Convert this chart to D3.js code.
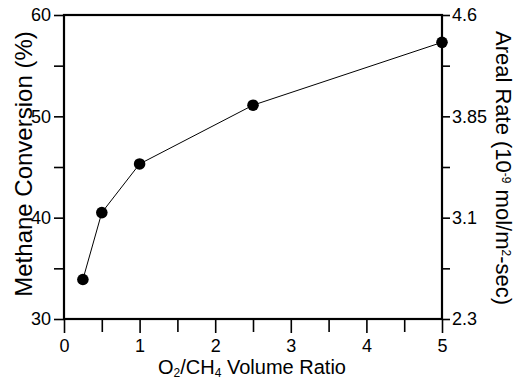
<!DOCTYPE html>
<html>
<head>
<meta charset="utf-8">
<script src="https://cdn.jsdelivr.net/npm/d3@7"></script>
<style>
  body { margin: 0; background: #fff; }
  text { font-family: 'Liberation Sans', Arial, sans-serif; fill: #000; }
</style>
</head>
<body>
<svg class="chart" width="517" height="381"></svg>
<script>
/****************************************************************
    Data
/****************************************************************/
const ratio = [0.25, 0.5, 1, 2.5, 5] // O2/CH4 volume ratio
const conversion = [33.9, 40.5, 45.3, 51.1, 57.3] // methane conversion (%)
const xTicks = [0, 1, 2, 3, 4, 5]
const xMinorTicks = [0.5, 1.5, 2.5, 3.5, 4.5]
const yTicks = [30, 40, 50, 60]
const yMinorTicks = [35, 45, 55]
const rightTickLabels = ['2.3', '3.1', '3.85', '4.6'] // areal rate at the left ticks

/****************************************************************
    Layout
/****************************************************************/
const box = { left: 64, right: 442, top: 15, bottom: 319 }

const svg = d3.select('.chart')

const x = d3.scaleLinear().domain([0, 5]).range([box.left, box.right])
const y = d3.scaleLinear().domain([30, 60]).range([box.bottom, box.top])

/****************************************************************
    Axes (ticks outward, frame drawn after)
/****************************************************************/
function styleAxis(g) {
  g.select('.domain').remove()
  g.selectAll('line').attr('stroke', '#000').attr('stroke-width', 1.6)
  g.selectAll('text').style('font-size', '18px').attr('fill', '#000')
}

// bottom
svg.append('g')
  .attr('transform', `translate(0,${box.bottom})`)
  .call(d3.axisBottom(x).tickValues(xTicks).tickFormat(d3.format('d')).tickSize(14).tickPadding(6))
  .call(styleAxis)
svg.append('g')
  .attr('transform', `translate(0,${box.bottom})`)
  .call(d3.axisBottom(x).tickValues(xMinorTicks).tickFormat('').tickSize(13))
  .call(styleAxis)

// left
svg.append('g')
  .attr('transform', `translate(${box.left},0)`)
  .call(d3.axisLeft(y).tickValues(yTicks).tickFormat(d3.format('d')).tickSize(10).tickPadding(3))
  .call(styleAxis)
svg.append('g')
  .attr('transform', `translate(${box.left},0)`)
  .call(d3.axisLeft(y).tickValues(yMinorTicks).tickFormat('').tickSize(10))
  .call(styleAxis)

// right, same positions as left but labelled in areal rate
svg.append('g')
  .attr('transform', `translate(${box.right},0)`)
  .call(d3.axisRight(y).tickValues(yTicks).tickFormat((d, i) => rightTickLabels[i]).tickSize(8).tickPadding(2))
  .call(styleAxis)
svg.append('g')
  .attr('transform', `translate(${box.right},0)`)
  .call(d3.axisRight(y).tickValues(yMinorTicks).tickFormat('').tickSize(8))
  .call(styleAxis)

// frame
svg.append('rect')
  .attr('x', box.left)
  .attr('y', box.top)
  .attr('width', box.right - box.left)
  .attr('height', box.bottom - box.top)
  .attr('fill', 'none')
  .attr('stroke', '#000')
  .attr('stroke-width', 2.2)

/****************************************************************
    Series
/****************************************************************/
const points = ratio.map((r, i) => ({ r: r, c: conversion[i] }))

svg.append('path')
  .datum(points)
  .attr('fill', 'none')
  .attr('stroke', '#000')
  .attr('stroke-width', 1)
  .attr('d', d3.line().x(d => x(d.r)).y(d => y(d.c)))

svg.append('g')
  .selectAll('circle')
  .data(points)
  .join('circle')
  .attr('cx', d => x(d.r))
  .attr('cy', d => y(d.c))
  .attr('r', 5.8)
  .attr('fill', '#000')

/****************************************************************
    Axis titles
/****************************************************************/
const xTitle = svg.append('text')
  .attr('x', 252)
  .attr('y', 374)
  .attr('text-anchor', 'middle')
  .style('font-size', '20px')
xTitle.append('tspan').text('O')
xTitle.append('tspan').text('2').style('font-size', '12px').attr('dy', 3)
xTitle.append('tspan').text('/CH').attr('dy', -3)
xTitle.append('tspan').text('4').style('font-size', '12px').attr('dy', 3)
xTitle.append('tspan').text(' Volume Ratio').attr('dy', -3)

svg.append('text')
  .attr('transform', 'translate(32,164) rotate(-90)')
  .attr('text-anchor', 'middle')
  .style('font-size', '24px')
  .text('Methane Conversion (%)')

const rTitle = svg.append('text')
  .attr('transform', 'translate(496,168) rotate(90)')
  .attr('text-anchor', 'middle')
  .style('font-size', '22px')
rTitle.append('tspan').text('Areal Rate (10')
rTitle.append('tspan').text('-9').style('font-size', '12px').attr('dy', -6)
rTitle.append('tspan').text(' mol/m').attr('dy', 6)
rTitle.append('tspan').text('2').style('font-size', '12px').attr('dy', -6)
rTitle.append('tspan').text('-sec)').attr('dy', 6)
</script>
</body>
</html>
